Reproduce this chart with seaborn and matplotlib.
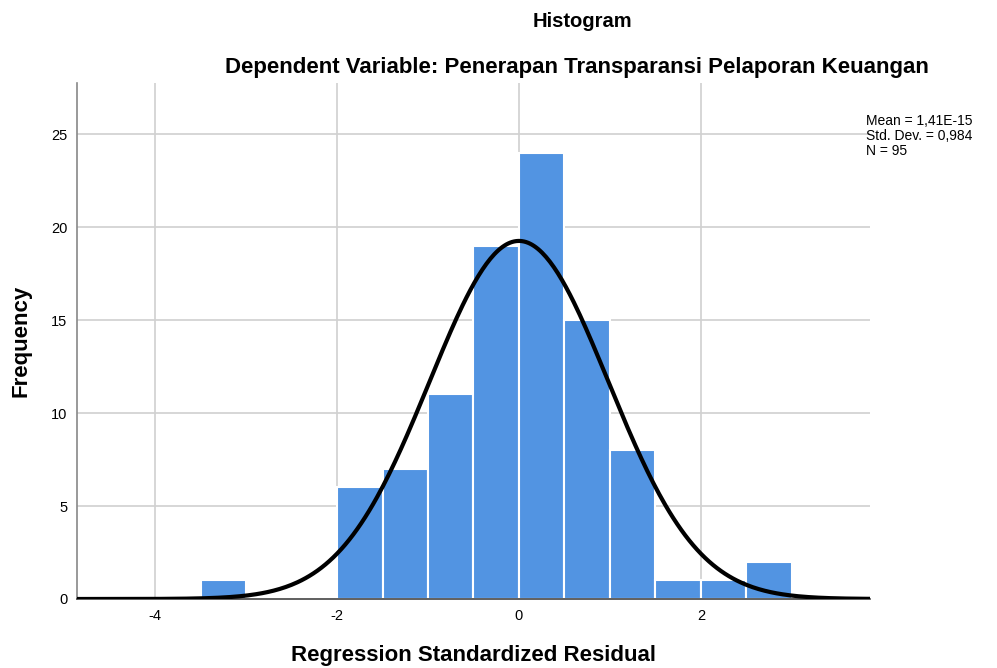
import numpy as np
import pandas as pd
import matplotlib.pyplot as plt
import seaborn as sns

# histogram bins (bin width 0.5) and counts
bin_left = [-3.5, -3.0, -2.5, -2.0, -1.5, -1.0, -0.5, 0.0, 0.5, 1.0, 1.5, 2.0, 2.5]
counts = [1, 0, 0, 6, 7, 11, 19, 24, 15, 8, 1, 1, 2]
mean = 1.41e-15
std = 0.984
n = 95
width = 0.5

edges = bin_left + [bin_left[-1] + width]
centers = [b + width / 2 for b in bin_left]
df = pd.DataFrame({"resid": centers, "count": counts})

sns.set_style("white")
plt.rcParams["font.family"] = ["Liberation Sans", "DejaVu Sans"]
plt.rcParams["axes.unicode_minus"] = False
plt.rcParams["text.color"] = "black"
plt.rcParams["axes.labelcolor"] = "black"
plt.rcParams["xtick.color"] = "black"
plt.rcParams["ytick.color"] = "black"

fig = plt.figure(figsize=(9.97, 6.68), dpi=100)
ax = fig.add_axes([0.0772, 0.1033, 0.7954, 0.7724])

sns.histplot(data=df, x="resid", weights="count", bins=edges, color="#5294e2",
             edgecolor="white", linewidth=1.5, alpha=1, ax=ax, zorder=2)

# normal curve scaled to the histogram
xs = np.linspace(-4.86, 3.86, 400)
ys = n * width * np.exp(-0.5 * ((xs - mean) / std) ** 2) / (std * np.sqrt(2 * np.pi))
sns.lineplot(x=xs, y=ys, color="black", linewidth=3, ax=ax, zorder=3)

ax.set_xlim(-4.86, 3.86)
ax.set_ylim(0, 27.75)
ax.set_xticks([-4, -2, 0, 2])
ax.set_yticks([0, 5, 10, 15, 20, 25])
ax.grid(True, color="#d0d0d0", linewidth=1.2, zorder=0)
ax.set_axisbelow(True)
ax.tick_params(length=0, labelsize=10.5, pad=7)
for s in ["top", "right"]:
    ax.spines[s].set_visible(False)
ax.spines["left"].set_color("#888888")
ax.spines["left"].set_linewidth(1.2)
ax.spines["bottom"].set_color("#444444")
ax.spines["bottom"].set_linewidth(1.2)

ax.set_xlabel("Regression Standardized Residual", fontsize=16, fontweight="bold", labelpad=16)
ax.set_ylabel("Frequency", fontsize=16, fontweight="bold", labelpad=14)

fig.text(0.584, 0.968, "Histogram", ha="center", va="center", fontsize=14.5, fontweight="bold")
fig.text(0.579, 0.899, "Dependent Variable: Penerapan Transparansi Pelaporan Keuangan",
         ha="center", va="center", fontsize=16, fontweight="bold")

fig.text(0.869, 0.829, "Mean = 1,41E-15\nStd. Dev. = 0,984\nN = 95",
         ha="left", va="top", fontsize=10, linespacing=1.1)

fig.savefig("out.png", dpi=100)
